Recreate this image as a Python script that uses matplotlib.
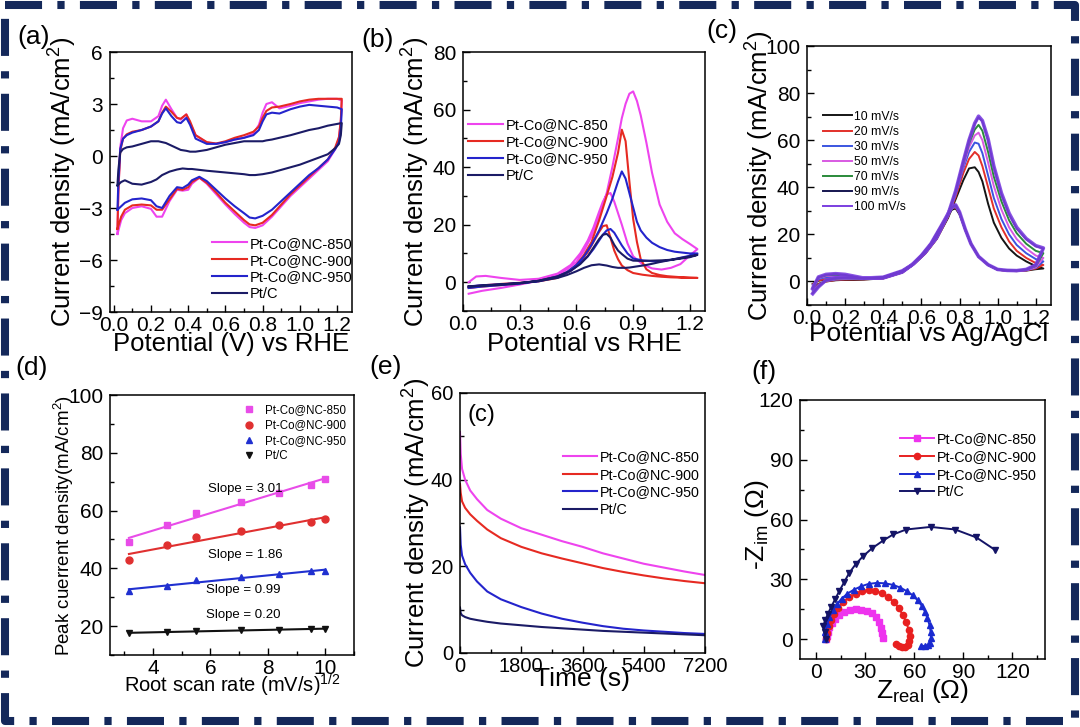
import numpy as np
import matplotlib
matplotlib.use('Agg')
import matplotlib.pyplot as plt
from matplotlib.lines import Line2D
from matplotlib.ticker import MultipleLocator

plt.rcParams['font.family'] = ['Liberation Sans', 'DejaVu Sans']
plt.rcParams['mathtext.default'] = 'regular'

SAMPLES = ['Pt-Co@NC-850', 'Pt-Co@NC-900', 'Pt-Co@NC-950', 'Pt/C']
COLORS = ['#ee44ee', '#e62a22', '#2424cc', '#1b1b66']

# (a) CV in acid, upper (anodic) and lower (cathodic) branches
a_x_fwd = [0.02, 0.025, 0.035, 0.05, 0.07, 0.1, 0.15, 0.2, 0.24, 0.26, 0.28, 0.31,
           0.34, 0.36, 0.39, 0.41, 0.44, 0.5, 0.55, 0.6, 0.65, 0.7, 0.75, 0.78,
           0.8, 0.82, 0.85, 0.89, 0.95, 1.0, 1.05, 1.1, 1.15, 1.2, 1.225]
a_850_fwd = [-4.5, -2.0, 0.5, 1.6, 2.05, 2.15, 2.0, 2.0, 2.3, 2.9, 3.25, 2.7, 2.2, 2.1,
             2.4, 1.9, 1.2, 0.78, 0.7, 0.8, 0.95, 1.05, 1.3, 1.8, 2.5, 3.0, 3.1, 2.75,
             2.9, 3.05, 3.15, 3.25, 3.3, 3.3, 3.2]
a_900_fwd = [-4.2, -2.0, 0.3, 1.0, 1.25, 1.4, 1.5, 1.7, 2.0, 2.5, 2.85, 2.55, 2.2, 2.15,
             2.4, 2.0, 1.2, 0.8, 0.72, 0.85, 1.05, 1.2, 1.4, 1.7, 2.2, 2.6, 2.8, 2.85,
             3.0, 3.15, 3.25, 3.3, 3.3, 3.3, 3.3]
a_950_fwd = [-3.1, -1.5, 0.4, 1.0, 1.2, 1.35, 1.5, 1.7, 2.0, 2.45, 2.75, 2.3, 1.95, 1.9,
             2.2, 1.8, 1.0, 0.7, 0.7, 0.8, 0.95, 1.05, 1.2, 1.5, 2.0, 2.4, 2.5, 2.45,
             2.7, 2.85, 2.95, 2.9, 2.85, 2.8, 2.7]
a_ptc_fwd = [-1.7, -0.8, 0.2, 0.4, 0.5, 0.55, 0.7, 0.85, 0.85, 0.8, 0.75, 0.6, 0.45, 0.35,
             0.3, 0.25, 0.25, 0.35, 0.5, 0.65, 0.75, 0.85, 0.85, 0.85, 0.85, 0.9, 0.95,
             1.05, 1.2, 1.35, 1.5, 1.6, 1.75, 1.85, 1.9]
a_x_rev = [1.225, 1.22, 1.21, 1.19, 1.15, 1.1, 1.05, 1.0, 0.95, 0.9, 0.85, 0.8, 0.76,
           0.73, 0.7, 0.65, 0.6, 0.55, 0.5, 0.46, 0.42, 0.4, 0.37, 0.34, 0.3, 0.26,
           0.23, 0.2, 0.15, 0.1, 0.06, 0.04, 0.03, 0.02]
a_850_rev = [3.2, 2.0, 1.0, 0.4, -0.3, -0.8, -1.3, -1.8, -2.3, -2.9, -3.5, -4.0, -4.15,
             -4.1, -3.85, -3.35, -2.8, -2.2, -1.6, -1.25, -1.6, -1.95, -2.0, -1.95, -2.6,
             -3.5, -3.5, -3.05, -2.9, -3.0, -3.3, -3.7, -4.1, -4.5]
a_900_rev = [3.3, 2.1, 1.1, 0.5, -0.2, -0.7, -1.2, -1.7, -2.2, -2.8, -3.4, -3.85, -4.0,
             -3.95, -3.7, -3.2, -2.7, -2.1, -1.55, -1.25, -1.5, -1.8, -1.95, -1.9, -2.5,
             -3.1, -3.1, -2.85, -2.8, -2.85, -3.1, -3.5, -3.85, -4.2]
a_950_rev = [2.7, 1.6, 0.8, 0.4, -0.2, -0.7, -1.1, -1.6, -2.1, -2.6, -3.1, -3.45, -3.6,
             -3.55, -3.3, -2.9, -2.45, -1.95, -1.45, -1.2, -1.4, -1.65, -1.85, -1.8, -2.3,
             -3.0, -2.9, -2.55, -2.45, -2.5, -2.7, -2.9, -3.0, -3.1]
a_ptc_rev = [1.9, 1.2, 0.7, 0.45, 0.1, -0.1, -0.3, -0.5, -0.65, -0.8, -0.95, -1.05, -1.1,
             -1.1, -1.05, -1.0, -0.95, -0.9, -0.85, -0.8, -0.75, -0.75, -0.72, -0.78,
             -0.9, -1.1, -1.35, -1.5, -1.65, -1.6, -1.4, -1.5, -1.6, -1.7]

# (b) methanol oxidation, forward and backward scans
b_x_fwd = [0.03, 0.1, 0.2, 0.3, 0.4, 0.5, 0.55, 0.6, 0.64, 0.68, 0.72, 0.76, 0.79, 0.82,
           0.84, 0.86, 0.88, 0.9, 0.92, 0.94, 0.97, 1.0, 1.04, 1.08, 1.12, 1.16, 1.2, 1.24]
b_850_fwd = [-4, -3, -2, -0.8, 0.5, 2.5, 4.5, 7, 11, 16, 22.5, 31, 40, 50, 57, 62, 65.5,
             66.3, 63, 58, 48.5, 38, 27, 21, 17, 15, 13.3, 11.5]
b_900_fwd = [-2, -1.5, -1, -0.5, 0.5, 2, 3.5, 6, 9.5, 14, 21.5, 30, 36.5, 45, 53, 49, 35,
             22, 14, 8, 4.5, 3.2, 2.5, 2.1, 1.9, 1.7, 1.6, 1.5]
b_950_fwd = [-2, -1.5, -1, -0.5, 0.5, 2, 3.5, 6, 9, 13, 18, 24, 29, 35, 38.5, 36, 31, 26,
             21, 18, 15.5, 13.7, 12.2, 11.2, 10.6, 10.3, 10, 10]
b_ptc_fwd = [-1.5, -1.2, -0.8, -0.3, 0.4, 1.5, 2.5, 3.8, 5, 5.9, 6.2, 5.8, 5.3, 5.0, 5.0,
             5.0, 5.1, 5.3, 5.5, 5.7, 6.0, 6.4, 7.0, 7.5, 8.0, 8.5, 9.0, 9.5]
b_x_rev = [1.24, 1.2, 1.15, 1.1, 1.05, 1.0, 0.95, 0.9, 0.87, 0.84, 0.82, 0.8, 0.78, 0.76,
           0.74, 0.72, 0.69, 0.66, 0.62, 0.57, 0.5, 0.4, 0.3, 0.2, 0.12, 0.07, 0.03]
b_850_rev = [11.5, 9.3, 6.3, 5, 4.4, 4.8, 6.2, 9, 13.5, 20, 24, 28, 31, 30.5, 28, 24.5,
             19, 14.5, 10, 6, 3, 1.2, 0.8, 1.5, 2.2, 2.0, 0]
b_900_rev = [1.5, 1.5, 1.6, 1.7, 1.9, 2.2, 2.6, 3.2, 4.2, 5.8, 8, 11, 15.5, 19.8, 19.5,
             17.5, 14, 10.5, 7, 4, 1.5, 0.3, -0.2, -0.6, -1, -1.3, -1.5]
b_950_rev = [10, 9.2, 8.5, 7.8, 7.3, 7.3, 7.6, 8.2, 10, 12.8, 15, 17.2, 18.5, 18, 16.5,
             14.5, 11.5, 9, 6.5, 4, 1.8, 0.3, -0.3, -0.7, -1, -1.2, -1.5]
b_ptc_rev = [9.5, 8.7, 8.2, 7.8, 7.6, 7.5, 7.4, 7.5, 8.2, 9.8, 11, 13, 15.5, 16.8, 16.5,
             15, 12, 9, 6.3, 4, 2, 0.5, -0.3, -0.8, -1.1, -1.3, -1.5]

# (c) Pt-Co@NC-850 at different scan rates
c_rates = ['10 mV/s', '20 mV/s', '30 mV/s', '50 mV/s', '70 mV/s', '90 mV/s', '100 mV/s']
c_colors = ['#151515', '#e2302a', '#3b55e0', '#d85ae2', '#2a8a3a', '#15154f', '#7b3fe0']
c_x_fwd = [0.03, 0.06, 0.1, 0.15, 0.2, 0.3, 0.4, 0.5, 0.56, 0.62, 0.68, 0.74, 0.78, 0.82,
           0.85, 0.88, 0.9, 0.92, 0.95, 0.98, 1.02, 1.06, 1.1, 1.15, 1.2, 1.24]
c_fwd = [
    [-3, -1, 0, 0.5, 0.7, 0.8, 1.3, 3.8, 7.3, 11.8, 18, 27, 35, 43, 48, 48.5, 46.5, 42.5,
     33, 25, 18.5, 14, 11, 8.5, 6.5, 5.5],
    [-3.5, -1.2, 0, 0.6, 0.8, 0.9, 1.3, 3.8, 7.3, 11.8, 18, 27.5, 36, 46, 52, 55, 53.5,
     49, 40, 31, 23, 17, 13, 10, 7.8, 7],
    [-4, -1.5, 0.2, 0.8, 1, 1, 1.4, 3.9, 7.4, 12, 18.2, 28, 37, 48, 55, 59, 58.5, 54.5,
     45, 35.5, 26.5, 20, 15.5, 12, 9.5, 8.5],
    [-4.5, -1.8, 0.3, 1, 1.2, 1.1, 1.4, 3.9, 7.4, 12, 18.3, 28, 37.5, 49, 57, 62, 63.2,
     60, 50.5, 40.5, 30.5, 23, 18, 14, 11, 10],
    [-5, -2, 0.4, 1.2, 1.4, 1.2, 1.5, 4, 7.5, 12.2, 18.5, 28.5, 38, 50, 58.5, 64.5, 66.5,
     64, 55, 44.5, 34, 26, 20.5, 16, 13, 12],
    [-5, -2.2, 0.5, 1.4, 1.6, 1.3, 1.5, 4, 7.6, 12.3, 18.6, 28.5, 38.5, 51, 60, 67, 69.8,
     68, 60, 48.5, 37, 28.5, 22.5, 18, 15, 14],
    [-5.2, -2.3, 0.6, 1.5, 1.7, 1.4, 1.5, 4, 7.6, 12.3, 18.6, 28.5, 38.5, 51, 60, 67.2,
     70.2, 68.3, 60.5, 49, 37.5, 29, 23, 18.2, 15.2, 14.2],
]
c_x_rev = [1.24, 1.2, 1.15, 1.1, 1.05, 1.0, 0.95, 0.9, 0.86, 0.83, 0.8, 0.78, 0.76, 0.73,
           0.7, 0.65, 0.6, 0.55, 0.5, 0.4, 0.3, 0.2, 0.15, 0.1, 0.06, 0.03]
c_rev = [
    [5.5, 5.2, 4.6, 4.4, 4.5, 5, 7, 10.5, 16, 22, 28.5, 31, 30.5, 27, 23, 16, 11, 7, 4.5,
     1.8, 1.0, 0.8, 1.0, 0.8, 0.3, -1],
    [7, 5.5, 4.7, 4.4, 4.5, 5, 7, 10.5, 16, 22, 29, 31.5, 31, 27, 23, 16, 11, 7, 4.5, 1.8,
     1.1, 1.2, 1.3, 1.0, 0.5, -1.2],
    [8.5, 5.8, 4.8, 4.5, 4.6, 5, 7, 10.5, 16, 22, 29, 31.8, 31, 27, 23, 16, 11, 7, 4.5,
     1.8, 1.2, 1.8, 2.0, 1.8, 1.0, -1.5],
    [10, 6, 4.8, 4.5, 4.6, 5, 7, 10.5, 16, 22, 29, 32, 31.2, 27, 23, 16, 11, 7, 4.5, 1.8,
     1.2, 2.2, 2.5, 2.3, 1.4, -2],
    [12, 6.5, 5, 4.6, 4.7, 5.1, 7.1, 10.6, 16, 22, 29.2, 32.2, 31.3, 27, 23, 16, 11, 7,
     4.5, 1.8, 1.3, 2.5, 2.8, 2.6, 1.6, -2.5],
    [14, 7, 5.1, 4.6, 4.7, 5.1, 7.1, 10.6, 16, 22.2, 29.4, 32.4, 31.5, 27.2, 23, 16, 11,
     7, 4.5, 1.8, 1.3, 2.8, 3.2, 2.9, 1.8, -3],
    [14.2, 7, 5.1, 4.6, 4.7, 5.1, 7.1, 10.6, 16, 22.2, 29.5, 32.5, 31.6, 27.3, 23, 16, 11,
     7, 4.5, 1.8, 1.4, 3.0, 3.3, 3.0, 1.9, -3],
]

# (d) peak current vs root scan rate
d_root_rate = [3.16, 4.47, 5.48, 7.07, 8.37, 9.49, 10.0]
d_850 = [49, 55, 59, 63, 66, 69, 71]
d_900 = [43, 48, 51, 53, 55, 56, 57]
d_950 = [32, 34, 36, 37, 38, 39, 39]
d_ptc = [17.5, 18, 18.3, 18.6, 18.8, 19, 19]
d_slopes = ['Slope = 3.01', 'Slope = 1.86', 'Slope = 0.99', 'Slope = 0.20']
d_slope_pos = [(5.9, 67.5), (5.9, 44.5), (5.85, 32.5), (5.85, 24)]

# (e) chronoamperometry
e_time = [0, 20, 60, 150, 300, 500, 800, 1200, 1800, 2400, 3000, 3600, 4200, 4800, 5400,
          6000, 6600, 7200]
e_850 = [51, 46, 42.5, 40, 37.5, 35.5, 33, 31, 28.8, 27.3, 25.8, 24.5, 23, 21.8, 20.6,
         19.7, 18.8, 18]
e_900 = [39, 37, 35, 33.5, 32, 30.5, 28.5, 26.5, 24.5, 23, 21.8, 20.7, 19.6, 18.7, 17.9,
         17.2, 16.6, 16.1]
e_950 = [29, 25, 22.5, 20.5, 18.5, 16.5, 14.2, 12.4, 10.6, 9.1, 7.9, 7.0, 6.2, 5.6, 5.2,
         4.9, 4.6, 4.4]
e_ptc = [10.5, 9.2, 8.7, 8.3, 7.9, 7.6, 7.2, 6.8, 6.4, 6.0, 5.7, 5.4, 5.1, 4.9, 4.7, 4.5,
         4.3, 4.1]

# (f) Nyquist plots
f_850_x = [6, 6.3, 7, 8, 9.5, 11.5, 14, 17, 20.5, 24, 27.5, 31, 34, 36.5, 38.5, 39.8,
           40.5, 40.8]
f_850_y = [0, 1.5, 3.8, 6, 8.3, 10.3, 12, 13.5, 14.5, 15, 14.8, 14.3, 13, 11, 8.5, 5.5,
           2.8, 0.5]
f_900_x = [6, 6.5, 7.5, 9, 11, 13.5, 16.5, 20, 24, 28, 32, 36, 40, 44, 47.5, 50.5, 53,
           55, 56.5, 57.2, 57, 56, 54.5, 52.5, 50.5, 49]
f_900_y = [0, 3, 6.5, 9.5, 12.8, 15.8, 18.6, 21, 22.8, 24, 24.5, 24.2, 23, 21, 18.5,
           15.5, 12, 8.5, 4.8, 1.5, -1, -2.8, -3.8, -4.2, -3.5, -2.5]
f_950_x = [5, 5.5, 6.5, 8, 10, 12.5, 15.5, 19, 23, 27.5, 32, 37, 42, 47, 51.5, 55.5, 59,
           62, 64.5, 66.5, 68, 69.3, 70, 70.2, 69.8, 68.5, 66.5, 64]
f_950_y = [0, 3.5, 7.5, 11, 14.5, 17.5, 20.3, 22.8, 24.8, 26.5, 27.7, 28.2, 28, 27.2,
           25.8, 24, 22, 19.5, 16.8, 13.8, 10.5, 7, 3.5, 0.5, -1.8, -3, -3.5, -3.3]
f_ptc_x = [6, 5, 4.3, 5.5, 7, 9, 11.5, 14, 17, 20, 24, 28.5, 34, 41, 47, 55, 70, 85, 98,
           109.5]
f_ptc_y = [0, 3.5, 6.8, 9.5, 12.5, 16, 20, 24, 28.5, 33, 37.5, 41.5, 45.5, 49.5, 52.5,
           55, 56.3, 55, 51, 44.7]


def style_axis(ax, tick_size):
    ax.tick_params(which='both', direction='in', top=False, right=False,
                   labelsize=tick_size)
    ax.tick_params(which='major', length=5, width=1)
    ax.tick_params(which='minor', length=3, width=1)
    ax.tick_params(axis='x', pad=3)
    ax.tick_params(axis='y', pad=5)
    for spine in ax.spines.values():
        spine.set_linewidth(1.1)


def line_legend(ax, anchor, size, spacing=0.2):
    ax.legend(loc='upper left', bbox_to_anchor=anchor, frameon=False, fontsize=size,
              borderaxespad=0, borderpad=0, handletextpad=0.2,
              labelspacing=spacing, handlelength=2.4)


def panel_a(ax):
    fwd = [a_850_fwd, a_900_fwd, a_950_fwd, a_ptc_fwd]
    rev = [a_850_rev, a_900_rev, a_950_rev, a_ptc_rev]
    for name, color, yf, yr in zip(SAMPLES, COLORS, fwd, rev):
        ax.plot(a_x_fwd + a_x_rev, yf + yr, color=color, lw=1.5, label=name)
    ax.set_xlim(-0.02, 1.28)
    ax.set_ylim(-9, 6)
    ax.xaxis.set_major_locator(MultipleLocator(0.2))
    ax.xaxis.set_minor_locator(MultipleLocator(0.1))
    ax.yaxis.set_major_locator(MultipleLocator(3))
    ax.yaxis.set_minor_locator(MultipleLocator(1.5))
    ax.xaxis.set_major_formatter(lambda v, p: f'{v:.1f}')
    style_axis(ax, 15)
    ax.set_xlabel('Potential (V) vs RHE', fontsize=18.5)
    ax.set_ylabel('Current density (mA/cm$^2$)', fontsize=18.5)
    ax.xaxis.set_label_coords(0.5, -0.078)
    ax.yaxis.set_label_coords(-0.13, 0.5)
    line_legend(ax, (0.42, 0.29), 10.5)


def panel_b(ax):
    fwd = [b_850_fwd, b_900_fwd, b_950_fwd, b_ptc_fwd]
    rev = [b_850_rev, b_900_rev, b_950_rev, b_ptc_rev]
    for name, color, yf, yr in zip(SAMPLES, COLORS, fwd, rev):
        ax.plot(b_x_fwd + b_x_rev, yf + yr, color=color, lw=1.5, label=name)
    ax.set_xlim(0, 1.28)
    ax.set_ylim(-10, 80)
    ax.xaxis.set_major_locator(MultipleLocator(0.3))
    ax.xaxis.set_minor_locator(MultipleLocator(0.15))
    ax.yaxis.set_major_locator(MultipleLocator(20))
    ax.yaxis.set_minor_locator(MultipleLocator(10))
    ax.xaxis.set_major_formatter(lambda v, p: f'{v:.1f}')
    style_axis(ax, 15)
    ax.set_xlabel('Potential vs RHE', fontsize=18.5)
    ax.set_ylabel('Current density (mA/cm$^2$)', fontsize=18.5)
    ax.xaxis.set_label_coords(0.5, -0.082)
    ax.yaxis.set_label_coords(-0.13, 0.5)
    line_legend(ax, (0.02, 0.745), 10.5)


def panel_c(ax):
    for i, (rate, color) in enumerate(zip(c_rates, c_colors)):
        last = i == len(c_rates) - 1
        ax.plot(c_x_fwd + c_x_rev, c_fwd[i] + c_rev[i], color=color,
                lw=2.6 if last else 1.4, alpha=0.9 if last else 1, label=rate)
    ax.set_xlim(0, 1.28)
    ax.set_ylim(-10, 100)
    ax.xaxis.set_major_locator(MultipleLocator(0.2))
    ax.xaxis.set_minor_locator(MultipleLocator(0.1))
    ax.yaxis.set_major_locator(MultipleLocator(20))
    ax.yaxis.set_minor_locator(MultipleLocator(10))
    ax.xaxis.set_major_formatter(lambda v, p: f'{v:.1f}')
    style_axis(ax, 15)
    ax.set_xlabel('Potential vs Ag/AgCl', fontsize=19)
    ax.set_ylabel('Current density (mA/cm$^2$)', fontsize=18.5)
    ax.xaxis.set_label_coords(0.5, -0.065)
    ax.yaxis.set_label_coords(-0.125, 0.5)
    leg = ax.legend(loc='upper left', bbox_to_anchor=(0.066, 0.75), frameon=False,
                    fontsize=8.8, borderaxespad=0, borderpad=0, handletextpad=0.15,
                    labelspacing=0.25, handlelength=2.4)
    for h in leg.legend_handles:
        h.set_linewidth(1.4)
        h.set_alpha(1)


def panel_d(ax):
    series = [d_850, d_900, d_950, d_ptc]
    colors = ['#e84ce8', '#e03030', '#2030d0', '#111111']
    markers = ['s', 'o', '^', 'v']
    x = np.array(d_root_rate)
    for name, color, marker, y in zip(SAMPLES, colors, markers, series):
        k, b = np.polyfit(x, y, 1)
        ax.plot(x, k * x + b, color=color, lw=1.5)
        ax.plot(x, y, ls='none', marker=marker, color=color, ms=5, label=name)
    for txt, (tx, ty) in zip(d_slopes, d_slope_pos):
        ax.text(tx, ty, txt, fontsize=9.5, va='center', ha='left')
    ax.set_xlim(2.5, 11)
    ax.set_ylim(10, 100)
    ax.xaxis.set_major_locator(MultipleLocator(2))
    ax.xaxis.set_minor_locator(MultipleLocator(1))
    ax.yaxis.set_major_locator(MultipleLocator(20))
    ax.yaxis.set_minor_locator(MultipleLocator(10))
    style_axis(ax, 15)
    ax.set_xlabel('Root scan rate (mV/s)$^{1/2}$', fontsize=14.5)
    ax.set_ylabel('Peak cuerrent density(mA/cm$^2$)', fontsize=13.5)
    ax.xaxis.set_label_coords(0.5, -0.065)
    ax.yaxis.set_label_coords(-0.14, 0.5)
    ax.legend(loc='upper left', bbox_to_anchor=(0.53, 0.965), frameon=False,
              fontsize=8.3, borderaxespad=0, borderpad=0, handletextpad=0.6,
              labelspacing=0.3, handlelength=1.6)


def panel_e(ax):
    series = [e_850, e_900, e_950, e_ptc]
    for name, color, y in zip(SAMPLES, COLORS, series):
        ax.plot(e_time, y, color=color, lw=1.5, label=name)
    ax.text(0.03, 0.915, '(c)', transform=ax.transAxes, fontsize=17, va='center')
    ax.set_xlim(0, 7200)
    ax.set_ylim(0, 60)
    ax.xaxis.set_major_locator(MultipleLocator(1800))
    ax.xaxis.set_minor_locator(MultipleLocator(900))
    ax.yaxis.set_major_locator(MultipleLocator(20))
    ax.yaxis.set_minor_locator(MultipleLocator(10))
    style_axis(ax, 14.5)
    ax.set_xlabel('Time (s)', fontsize=19)
    ax.set_ylabel('Current density (mA/cm$^2$)', fontsize=18.5)
    ax.xaxis.set_label_coords(0.5, -0.055)
    ax.yaxis.set_label_coords(-0.11, 0.5)
    line_legend(ax, (0.42, 0.78), 10.3, spacing=0.25)


def panel_f(ax):
    xs = [f_850_x, f_900_x, f_950_x, f_ptc_x]
    ys = [f_850_y, f_900_y, f_950_y, f_ptc_y]
    colors = ['#ee33ee', '#e82020', '#1a2ad0', '#141466']
    markers = ['s', 'o', '^', 'v']
    for name, color, marker, x, y in zip(SAMPLES, colors, markers, xs, ys):
        ax.plot(x, y, color=color, lw=1.4, marker=marker, ms=4.5, label=name)
    ax.set_xlim(-10, 140)
    ax.set_ylim(-10, 120)
    ax.xaxis.set_major_locator(MultipleLocator(30))
    ax.xaxis.set_minor_locator(MultipleLocator(15))
    ax.yaxis.set_major_locator(MultipleLocator(30))
    ax.yaxis.set_minor_locator(MultipleLocator(15))
    style_axis(ax, 15)
    ax.set_xlabel('Z$_{real}$ ($\\Omega$)', fontsize=19)
    ax.set_ylabel('-Z$_{im}$ ($\\Omega$)', fontsize=19)
    ax.xaxis.set_label_coords(0.5, -0.07)
    ax.yaxis.set_label_coords(-0.12, 0.52)
    line_legend(ax, (0.408, 0.875), 10.3, spacing=0.25)


def draw_border(fig):
    x0, x1 = 5 / 1080, 1075 / 1080
    y0, y1 = 6 / 727, 722 / 727
    border = Line2D([x0, x1, x1, x0, x0], [y1, y1, y0, y0, y1], transform=fig.transFigure,
                    color='#14285a', lw=5.8, ls=(0, (4.6, 1.9, 0.9, 1.9)),
                    dash_capstyle='butt')
    fig.add_artist(border)


def main():
    fig = plt.figure(figsize=(10.8, 7.27), dpi=100)
    boxes = {
        'a': [110, 52, 352, 312],
        'b': [463, 52, 705, 311],
        'c': [807, 46, 1051, 305],
        'd': [110, 395, 354, 655],
        'e': [460, 393, 705, 653],
        'f': [800, 400, 1045, 659],
    }
    axes = {}
    for key, (l, t, r, b) in boxes.items():
        axes[key] = fig.add_axes([l / 1080, 1 - b / 727, (r - l) / 1080, (b - t) / 727])

    panel_a(axes['a'])
    panel_b(axes['b'])
    panel_c(axes['c'])
    panel_d(axes['d'])
    panel_e(axes['e'])
    panel_f(axes['f'])

    labels = {'(a)': (34, 37), '(b)': (378, 40), '(c)': (722, 31),
              '(d)': (32, 368), '(e)': (386, 367), '(f)': (764, 372)}
    for txt, (px, py) in labels.items():
        fig.text(px / 1080, 1 - py / 727, txt, fontsize=19, ha='center', va='center')

    draw_border(fig)
    fig.savefig('out.png', dpi=100)


if __name__ == '__main__':
    main()
